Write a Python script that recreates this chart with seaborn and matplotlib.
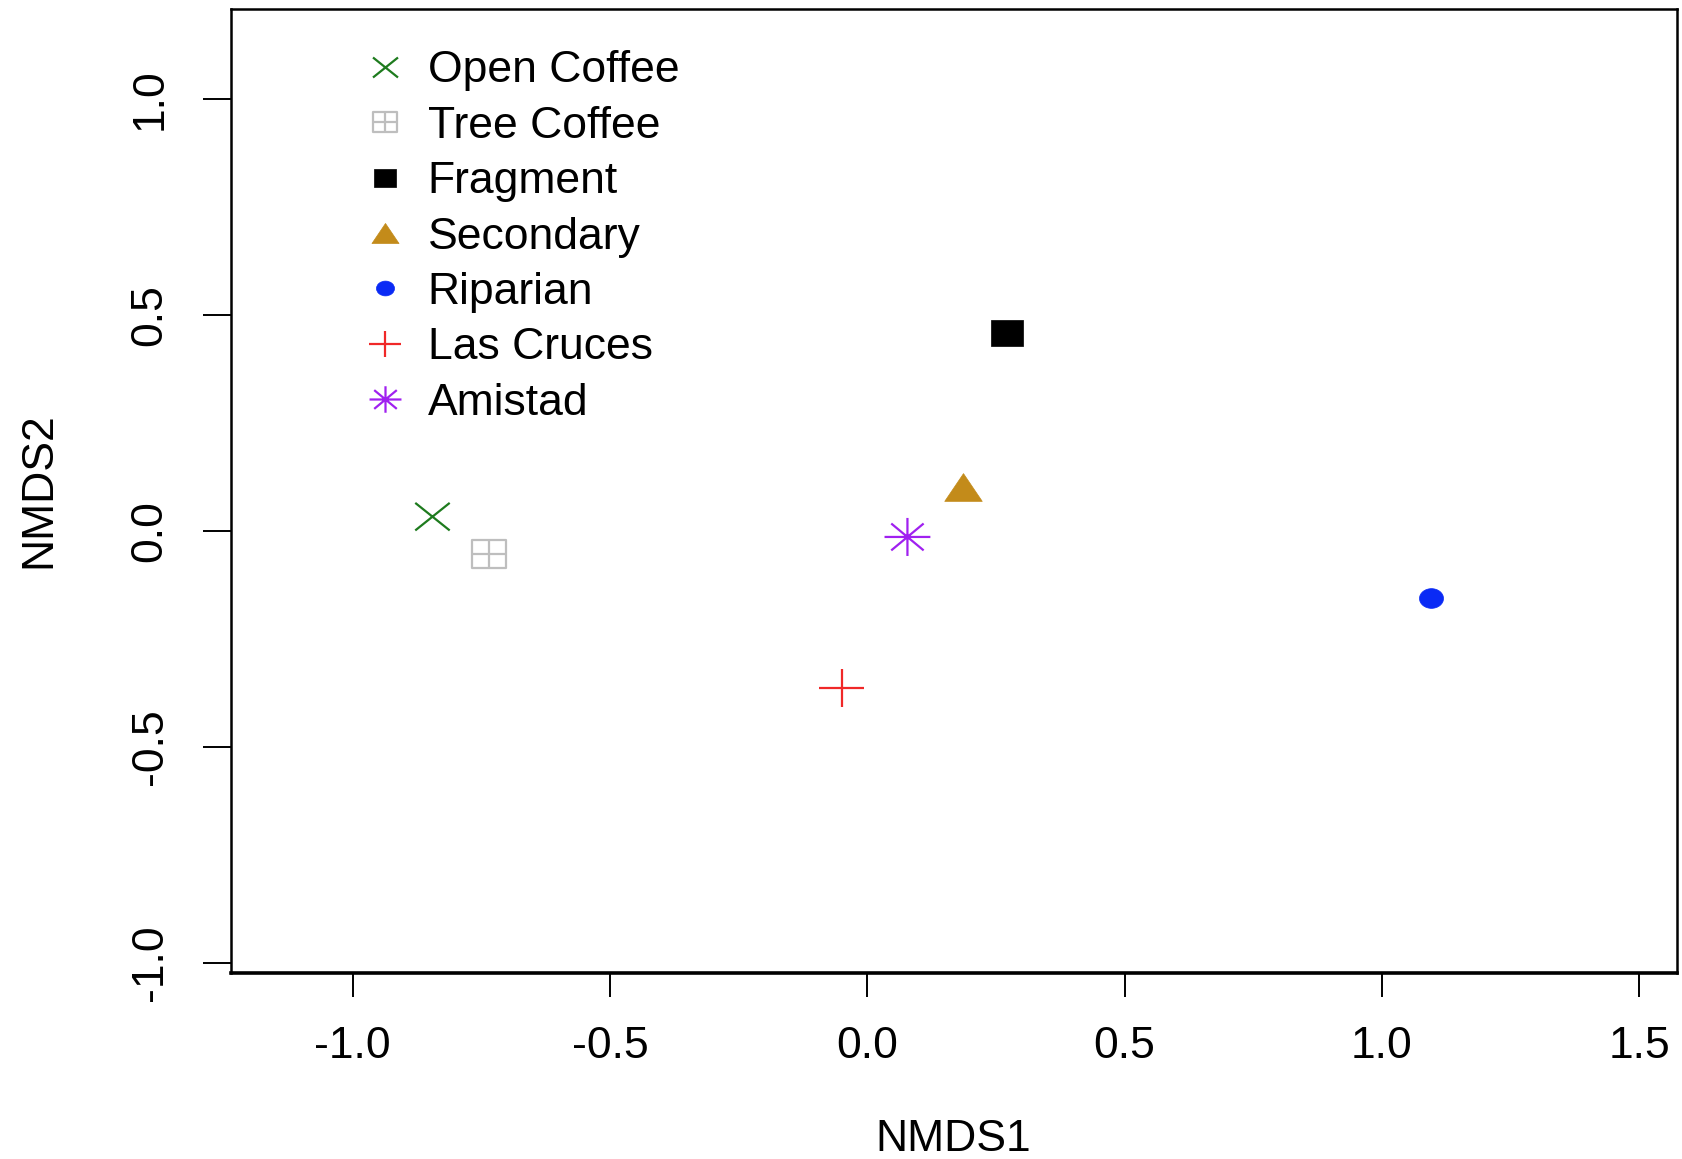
import numpy as np
import pandas as pd
import matplotlib
matplotlib.use("Agg")
import matplotlib.pyplot as plt
from matplotlib.path import Path
from matplotlib.transforms import Affine2D
from matplotlib.lines import Line2D
import seaborn as sns

# ---------------- data ----------------
categories = ["Open Coffee", "Tree Coffee", "Fragment", "Secondary",
              "Riparian", "Las Cruces", "Amistad"]
nmds1 = [-0.845, -0.735, 0.272, 0.185, 1.095, -0.050, 0.078]
nmds2 = [0.033, -0.054, 0.458, 0.101, -0.155, -0.365, -0.014]
colors = ["#1E7B1E", "#BEBEBE", "#000000", "#C38B1A", "#0A2AF5", "#F02828", "#A020F0"]
x_ticks = [-1.0, -0.5, 0.0, 0.5, 1.0, 1.5]
y_ticks = [-1.0, -0.5, 0.0, 0.5, 1.0]
x_label = "NMDS1"
y_label = "NMDS2"

df = pd.DataFrame({"cat": categories, "NMDS1": nmds1, "NMDS2": nmds2, "col": colors})

# ---------------- marker paths (slightly wider than tall, like the reference) ----------------
def seg_path(segs):
    verts, codes = [], []
    for a, b in segs:
        verts += [a, b]
        codes += [Path.MOVETO, Path.LINETO]
    return Path(verts, codes)

def mk_x(a=0.8):
    return seg_path([((-1, -a), (1, a)), ((-1, a), (1, -a))])

def mk_plus(a=0.83):
    return seg_path([((-1, 0), (1, 0)), ((0, -a), (0, a))])

def mk_star(a=0.83):
    d = 0.707
    return seg_path([((-1, 0), (1, 0)), ((0, -a), (0, a)),
                     ((-d, -d * a), (d, d * a)), ((-d, d * a), (d, -d * a))])

def mk_boxplus(a=0.82):
    verts = [(-1, -a), (1, -a), (1, a), (-1, a), (-1, -a),
             (-1, 0), (1, 0), (0, -a), (0, a)]
    codes = [Path.MOVETO, Path.LINETO, Path.LINETO, Path.LINETO, Path.CLOSEPOLY,
             Path.MOVETO, Path.LINETO, Path.MOVETO, Path.LINETO]
    return Path(verts, codes)

def mk_rect(a=0.79):
    return Path([(-1, -a), (1, -a), (1, a), (-1, a), (-1, -a)],
                [Path.MOVETO, Path.LINETO, Path.LINETO, Path.LINETO, Path.CLOSEPOLY])

def mk_tri(a=0.74):
    return Path([(-1, -a), (1, -a), (0, a), (-1, -a)],
                [Path.MOVETO, Path.LINETO, Path.LINETO, Path.CLOSEPOLY])

def mk_circle(a=0.82):
    return Path.unit_circle().transformed(Affine2D().scale(1, a))

markers = [mk_x(), mk_boxplus(), mk_rect(), mk_tri(), mk_circle(), mk_plus(), mk_star()]
filled = [False, False, True, True, True, False, False]
plot_sizes = [24.8, 24.8, 22.8, 27.0, 17.3, 33.0, 33.0]    # pt (marker width)
legend_sizes = [18.0, 17.0, 15.5, 19.5, 13.0, 23.0, 23.0]

# ---------------- style ----------------
sns.set_style("white")
plt.rcParams["font.family"] = ["Liberation Sans", "DejaVu Sans"]
plt.rcParams["text.color"] = "black"
plt.rcParams["axes.labelcolor"] = "black"
plt.rcParams["xtick.color"] = "black"
plt.rcParams["ytick.color"] = "black"
FS = 32

fig = plt.figure(figsize=(16.83, 11.59), dpi=100)
ax = fig.add_axes([0.13714, 0.16091, 0.85900, 0.83167])

for i, row in df.iterrows():
    kw = dict(marker=markers[i], s=plot_sizes[i] ** 2, ax=ax, legend=False, zorder=3)
    if filled[i]:
        kw.update(facecolor=row["col"], edgecolor=row["col"], linewidth=0.5)
    else:
        kw.update(facecolor="none", edgecolor=row["col"], linewidth=1.6)
    sns.scatterplot(data=df.iloc[[i]], x="NMDS1", y="NMDS2", **kw)

ax.set_xlim(-1.2369, 1.5725)
ax.set_ylim(-1.023, 1.210)
ax.set_xticks(x_ticks)
ax.set_yticks(y_ticks)
ax.set_xticklabels([f"{v:.1f}" for v in x_ticks])
ax.set_yticklabels([f"{v:.1f}" for v in y_ticks])

for sp in ax.spines.values():
    sp.set_visible(True)
    sp.set_color("black")
    sp.set_linewidth(1.8)
ax.spines["bottom"].set_linewidth(2.6)

ax.tick_params(axis="x", direction="out", length=17.3, width=1.4, pad=21,
               labelsize=FS, colors="black", bottom=True)
ax.tick_params(axis="y", direction="out", length=20.4, width=1.4, pad=23,
               labelsize=FS, colors="black", left=True, labelrotation=90)
for lab in ax.get_yticklabels():
    lab.set_verticalalignment("center")

ax.set_xlabel(x_label, fontsize=FS, color="black")
ax.set_ylabel(y_label, fontsize=FS, color="black")
ax.xaxis.set_label_coords(0.5, -0.1735)
ax.xaxis.label.set_verticalalignment("center")
ax.yaxis.set_label_coords(-0.1325, 0.5)
ax.yaxis.label.set_verticalalignment("center")
ax.yaxis.label.set_horizontalalignment("center")

handles = []
for i, cat in enumerate(categories):
    if filled[i]:
        h = Line2D([], [], linestyle="none", marker=markers[i], markersize=legend_sizes[i],
                   markerfacecolor=colors[i], markeredgecolor=colors[i], markeredgewidth=0.5)
    else:
        h = Line2D([], [], linestyle="none", marker=markers[i], markersize=legend_sizes[i],
                   markerfacecolor="none", markeredgecolor=colors[i], markeredgewidth=1.6)
    handles.append(h)

leg = ax.legend(handles, categories, loc="upper left", bbox_to_anchor=(0.0913, 0.9568),
                frameon=False, fontsize=FS, handlelength=1.0, handletextpad=0.46,
                labelspacing=0.325, borderpad=0, borderaxespad=0)
for t in leg.get_texts():
    t.set_color("black")

fig.savefig("out.png", dpi=100, facecolor="white")
